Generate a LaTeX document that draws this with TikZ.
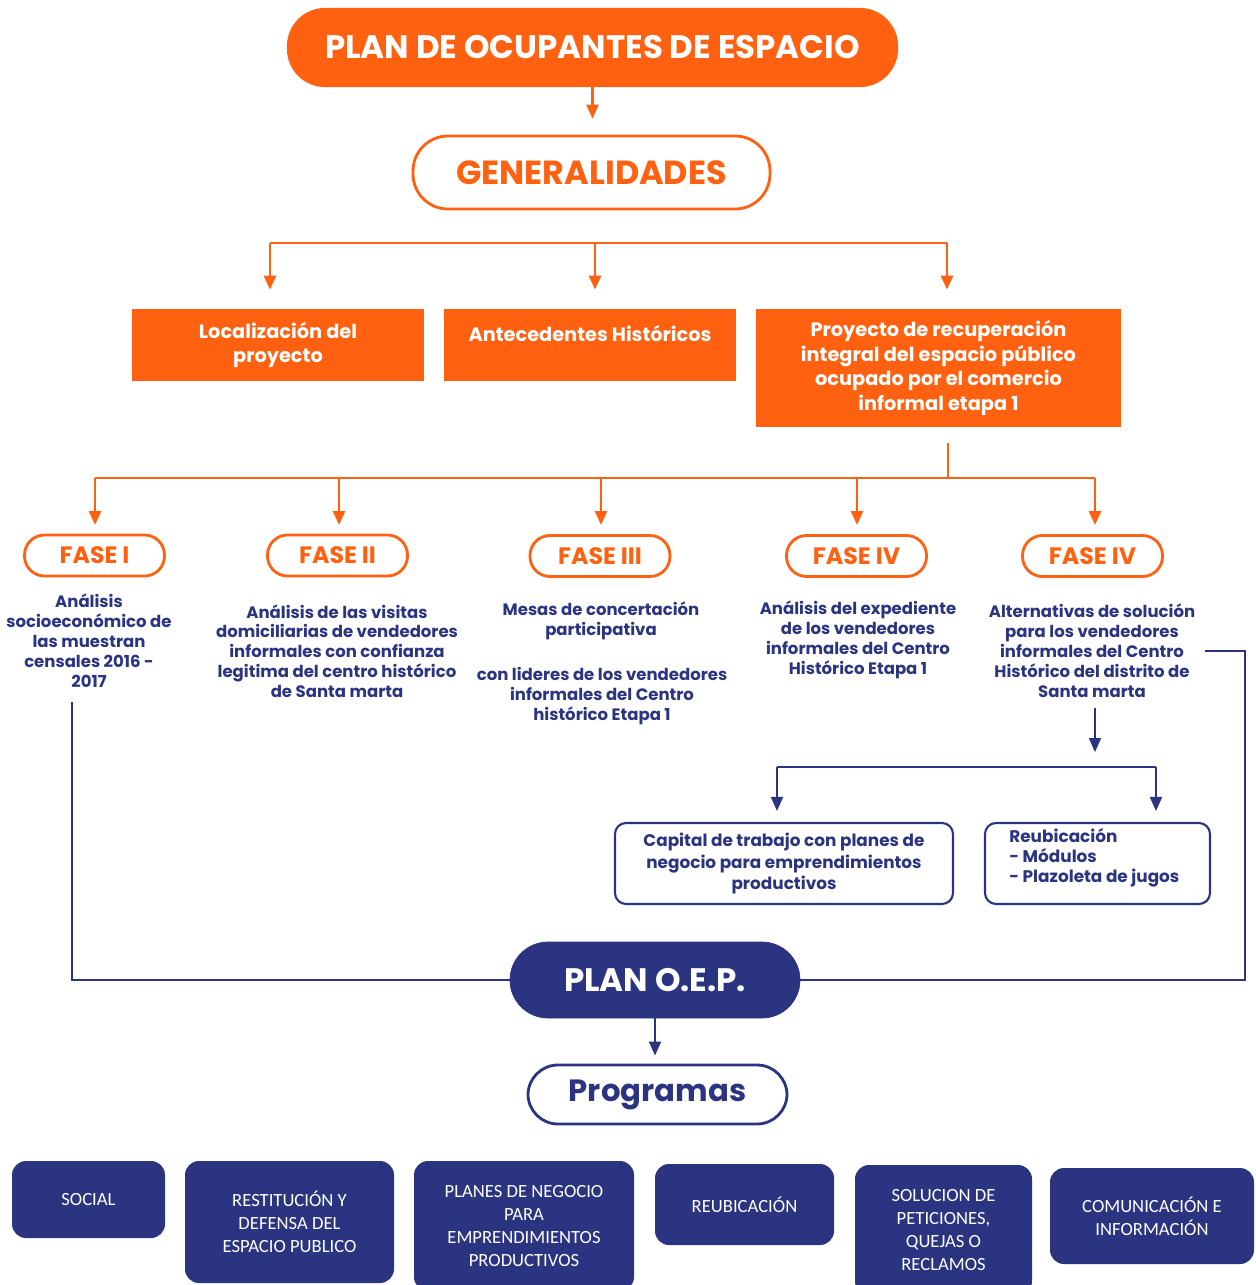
\documentclass[tikz,border=0pt]{standalone}
\usepackage{fontspec}
\setmainfont{Poppins}
\newfontfamily\calib{Carlito}
\usetikzlibrary{arrows.meta}
\definecolor{ora}{HTML}{FF6110}
\definecolor{nav}{HTML}{2B3481}
\begin{document}
\begin{tikzpicture}[x=0.02cm,y=-0.02cm,
  orapill/.style={draw=ora,fill=ora,line width=1.2pt,rounded corners=0.74cm,inner sep=0pt,text=white,font=\bfseries\fontsize{18.5}{20}\selectfont},
  genpill/.style={draw=ora,fill=white,line width=1.6pt,rounded corners=0.7cm,inner sep=0pt,text=ora,font=\bfseries\fontsize{19}{21}\selectfont},
  orabox/.style={fill=ora,inner sep=0pt,text=white,align=center,font=\bfseries\fontsize{11}{14.2}\selectfont},
  fasepill/.style={draw=ora,fill=white,line width=1.6pt,rounded corners=0.4cm,inner sep=0pt,minimum width=140*0.02cm,minimum height=41*0.02cm,text=ora,font=\bfseries\fontsize{13.5}{15}\selectfont},
  bluetxt/.style={text=nav,align=center,inner sep=0pt,font=\bfseries\fontsize{9.4}{11.3}\selectfont},
  bluebox/.style={draw=nav,fill=white,line width=1.2pt,rounded corners=0.22cm,inner sep=0pt,text=nav,font=\bfseries\fontsize{9.6}{12.3}\selectfont},
  navpill/.style={draw=nav,fill=nav,rounded corners=0.76cm,inner sep=0pt,text=white,font=\bfseries\fontsize{18.5}{20}\selectfont},
  progpill/.style={draw=nav,fill=white,line width=1.6pt,rounded corners=0.6cm,inner sep=0pt,text=nav,font=\bfseries\fontsize{17.5}{19}\selectfont},
  prog/.style={fill=nav,rounded corners=0.28cm,inner sep=0pt,text=white,align=center,font=\calib\fontsize{10.6}{13}\selectfont},
  oline/.style={draw=ora,line width=1.5pt},
  oarr/.style={draw=ora,line width=1.5pt,-{Triangle[length=0.28cm,width=0.24cm]}},
  bline/.style={draw=nav,line width=1.1pt},
  barr/.style={draw=nav,line width=1.1pt,-{Triangle[length=0.28cm,width=0.24cm]}}
]
\useasboundingbox (0,0) rectangle (1256,1285);

% top
\node[orapill,minimum width=609*0.02cm,minimum height=77*0.02cm] (title) at (592.5,47.5) {PLAN DE OCUPANTES DE ESPACIO};
\node[genpill,minimum width=357*0.02cm,minimum height=73*0.02cm] (gen) at (591.5,172.5) {GENERALIDADES};
\draw[oarr] (title.south) -- ([yshift=16*0.02cm]gen.north -| title.south);

% level 2
\node[orabox,minimum width=292*0.02cm,minimum height=72*0.02cm] (loc) at (278,345) {Localización del\\proyecto};
\node[orabox,minimum width=292*0.02cm,minimum height=72*0.02cm,text depth=23*0.02cm] (ant) at (590,345) {Antecedentes Históricos};
\node[orabox,minimum width=365*0.02cm,minimum height=118*0.02cm] (proy) at (938.5,368) {Proyecto de recuperación\\integral del espacio público\\ocupado por el comercio\\informal etapa 1};

\coordinate (b1l) at (270,243);
\coordinate (b1r) at (947,243);
\draw[oline] (b1l) -- (b1r);
\draw[oarr] (b1l) -- ([yshift=19*0.02cm]loc.north -| b1l);
\draw[oarr] (595,243) -- ([yshift=19*0.02cm]ant.north -| 595,0);
\draw[oarr] (b1r) -- ([yshift=19*0.02cm]proy.north -| b1r);

% fases
\node[fasepill] (f1) at (94.5,555.5) {FASE I};
\node[fasepill] (f2) at (337.5,555.5) {FASE II};
\node[fasepill] (f3) at (600,556) {FASE III};
\node[fasepill] (f4) at (856.5,556) {FASE IV};
\node[fasepill] (f5) at (1092.5,556) {FASE IV};

\coordinate (p1) at (948,443);
\coordinate (p2) at (948,478);
\draw[oline] (p1) -- (p2);
\draw[oline] (95,478) -- (1095,478);
\draw[oarr] (95,478) -- (95,525);
\draw[oarr] (339,478) -- (339,525);
\draw[oarr] (601,478) -- (601,525);
\draw[oarr] (857,478) -- (857,525);
\draw[oarr] (1095,478) -- (1095,525);

% descriptions
\node[bluetxt] (t1) at (89,640.5) {Análisis\\socioeconómico de\\las muestran\\censales 2016 -\\2017};
\node[bluetxt] (t2) at (337,651) {Análisis de las visitas\\domiciliarias de vendedores\\informales con confianza\\legitima del centro histórico\\de Santa marta};
\node[bluetxt] (t3a) at (601,621) {Mesas de concertación\\participativa};
\node[bluetxt] (t3b) at (602,696) {con lideres de los vendedores\\informales del Centro\\histórico Etapa 1};
\node[bluetxt] (t4) at (858,640) {Análisis del expediente\\de los vendedores\\informales del Centro\\Histórico Etapa 1};
\node[bluetxt] (t5) at (1092,650.5) {Alternativas de solución\\para los vendedores\\informales del Centro\\Histórico del distrito de\\Santa marta};

% sub boxes
\node[bluebox,minimum width=338*0.02cm,minimum height=81*0.02cm,align=center] (cap) at (784,863.5) {Capital de trabajo con planes de\\negocio para emprendimientos\\productivos};
\node[bluebox,minimum width=225*0.02cm,minimum height=81*0.02cm] (reu) at (1097.5,863.5) {};
\node[text=nav,anchor=north west,inner sep=0pt,align=left,font=\bfseries\fontsize{9.6}{11.5}\selectfont] (reut) at (1009,828) {Reubicación\\- Módulos\\- Plazoleta de jugos};

\coordinate (s1) at (1095,708);
\coordinate (s2) at (1095,752);
\draw[barr] (s1) -- (s2);
\coordinate (bl) at (777,767);
\coordinate (br) at (1156,767);
\draw[bline] (bl) -- (br);
\draw[barr] (bl) -- ([yshift=11*0.02cm]cap.north -| bl);
\draw[barr] (br) -- ([yshift=11*0.02cm]reu.north -| br);

% plan oep
\node[navpill,minimum width=290*0.02cm,minimum height=76*0.02cm] (oep) at (655,980) {PLAN O.E.P.};
\coordinate (l1) at (72,702);
\draw[bline] (l1) |- (oep.west);
\coordinate (r1) at (1205,651);
\coordinate (r2) at (1245,651);
\draw[bline] (r1) -- (r2) |- (oep.east);

\node[progpill,minimum width=259*0.02cm,minimum height=59*0.02cm] (prg) at (657.5,1094.5) {Programas};
\draw[barr] (oep.south) -- ([yshift=8*0.02cm]prg.north -| oep.south);

% programs
\node[prog,minimum width=153*0.02cm,minimum height=77*0.02cm] (q1) at (88.5,1199.5) {SOCIAL};
\node[prog,minimum width=209*0.02cm,minimum height=122*0.02cm] (q2) at (289.5,1222) {RESTITUCIÓN Y\\DEFENSA DEL\\ESPACIO PUBLICO};
\node[prog,minimum width=220*0.02cm,minimum height=130*0.02cm] (q3) at (524,1226) {PLANES DE NEGOCIO\\PARA\\EMPRENDIMIENTOS\\PRODUCTIVOS};
\node[prog,minimum width=179*0.02cm,minimum height=81*0.02cm] (q4) at (744.5,1204.5) {REUBICACIÓN};
\node[prog,minimum width=177*0.02cm,minimum height=130*0.02cm] (q5) at (943.5,1230) {SOLUCION DE\\PETICIONES,\\QUEJAS O\\RECLAMOS};
\node[prog,minimum width=204*0.02cm,minimum height=96*0.02cm] (q6) at (1152,1216) {COMUNICACIÓN E\\INFORMACIÓN};
\end{tikzpicture}
\end{document}
